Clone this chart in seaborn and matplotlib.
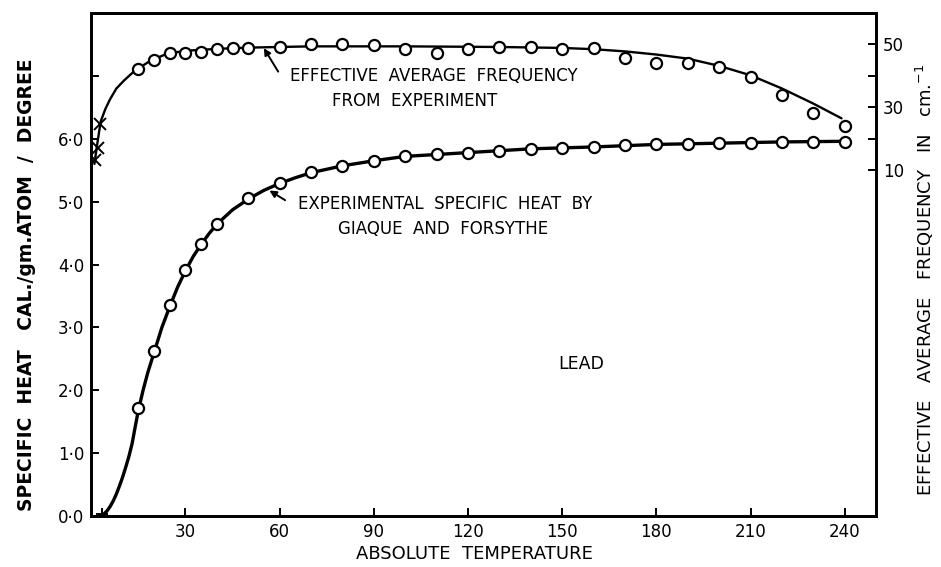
import numpy as np
import pandas as pd
import matplotlib
matplotlib.use("Agg")
import matplotlib.pyplot as plt
import seaborn as sns

# ==================================================
# DATA
# ==================================================

# specific heat of lead, cal / gm.atom / degree (left axis)
heat_T = [15, 20, 25, 30, 35, 40, 50, 60, 70, 80, 90, 100, 110, 120,
          130, 140, 150, 160, 170, 180, 190, 200, 210, 220, 230, 240]
heat_C = [1.71, 2.62, 3.35, 3.92, 4.33, 4.65, 5.05, 5.30, 5.47, 5.57,
          5.65, 5.73, 5.75, 5.78, 5.81, 5.84, 5.86, 5.87, 5.90, 5.92,
          5.92, 5.94, 5.94, 5.95, 5.95, 5.95]

heat_line_T = [3, 4, 5, 6, 7, 8, 9, 10, 11, 12, 13, 14, 15, 16.5, 18, 20,
               22.5, 25, 27.5, 30, 32.5, 35, 37.5, 40, 45, 50, 55, 60, 65,
               70, 80, 90, 100, 120, 140, 160, 180, 200, 220, 240]
heat_line_C = [0.0, 0.03, 0.08, 0.15, 0.24, 0.35, 0.48, 0.62, 0.78, 0.95,
               1.15, 1.42, 1.68, 2.00, 2.28, 2.60, 3.00, 3.33, 3.64, 3.90,
               4.13, 4.32, 4.49, 4.64, 4.87, 5.04, 5.18, 5.29, 5.38,
               5.46, 5.57, 5.65, 5.72, 5.78, 5.84, 5.87, 5.91, 5.93, 5.95,
               5.96]

# effective average frequency in cm^-1 (right axis)
freq_T = [15, 20, 25, 30, 35, 40, 45, 50, 60, 70, 80, 90, 100, 110, 120,
          130, 140, 150, 160, 170, 180, 190, 200, 210, 220, 230, 240]
freq_v = [42.2, 45.0, 47.3, 47.3, 47.6, 48.6, 48.9, 48.9, 49.2, 50.0,
          50.2, 49.8, 48.6, 47.3, 48.6, 49.2, 49.2, 48.6, 48.9, 45.7,
          44.1, 44.1, 42.9, 39.7, 34.0, 28.3, 24.1]

freq_cross_T = [1.1, 2.1, 2.7]
freq_cross_v = [13.3, 17.1, 24.8]

freq_line_T = [1, 2, 3, 4.5, 6, 8, 10.5, 14, 19, 24, 30, 40, 50, 70, 100,
               130, 150, 160, 170, 180, 190, 200, 210, 220, 230, 239]
freq_line_v = [12, 19, 25.5, 29.5, 32.6, 36, 38.6, 41.8, 44.9, 47, 48,
               48.6, 49, 49.4, 49.4, 49.2, 48.9, 48.5, 47.8, 46.8, 45.5,
               43.2, 40.2, 36, 31.2, 26.5]

x_ticks = [30, 60, 90, 120, 150, 180, 210, 240]
left_ticks = [0, 1, 2, 3, 4, 5, 6, 7]
left_labels = ["0·0", "1·0", "2·0", "3·0", "4·0", "5·0", "6·0", ""]
right_ticks = [10, 20, 30, 40, 50]
right_labels = ["10", "", "30", "", "50"]

# ==================================================
# STYLE
# ==================================================

sns.set_style("ticks")
plt.rcParams["font.family"] = ["DejaVu Sans"]

INK = "black"

fig = plt.figure(figsize=(9.41, 5.67), dpi=100)
ax = fig.add_axes([0.097, 0.09, 0.834, 0.887])

# twin axis: frequency = 20 * C - 100
ax2 = ax.twinx()

# ==================================================
# CURVES
# ==================================================

sns.lineplot(x=heat_line_T, y=heat_line_C, ax=ax, color=INK,
             linewidth=2.4, sort=False)
sns.lineplot(x=heat_T, y=heat_C, ax=ax, color=INK, linewidth=0,
             marker="o", markersize=8, markerfacecolor="white",
             markeredgecolor=INK, markeredgewidth=1.6)
ax.plot([3.5], [0.03], marker="+", markersize=9, color=INK,
        markeredgewidth=1.4, linestyle="none")

sns.lineplot(x=freq_line_T, y=freq_line_v, ax=ax2, color=INK,
             linewidth=1.7, sort=False)
sns.lineplot(x=freq_T, y=freq_v, ax=ax2, color=INK, linewidth=0,
             marker="o", markersize=8, markerfacecolor="white",
             markeredgecolor=INK, markeredgewidth=1.6)
ax2.plot(freq_cross_T, freq_cross_v, marker="x", markersize=8,
         color=INK, markeredgewidth=1.4, linestyle="none")

# ==================================================
# AXES
# ==================================================

ax.set_xlim(0, 250)
ax.set_ylim(0, 8)
ax2.set_ylim(-100, 60)

ax.set_xticks(x_ticks)
ax.set_xticklabels([str(t) for t in x_ticks])
ax.set_yticks(left_ticks)
ax.set_yticklabels(left_labels)
ax2.set_yticks(right_ticks)
ax2.set_yticklabels(right_labels)

for a in (ax, ax2):
    a.tick_params(direction="in", length=6, width=1.4, colors=INK,
                  labelsize=12, pad=5)
    for s in a.spines.values():
        s.set_visible(True)
        s.set_linewidth(2)
        s.set_color(INK)

ax.set_xlabel("ABSOLUTE  TEMPERATURE", fontsize=13, color=INK)
ax.xaxis.set_label_coords(0.488, -0.058)

ax.set_ylabel("SPECIFIC  HEAT   CAL./gm.ATOM  /  DEGREE", fontsize=13.5,
              fontweight="bold", color=INK)
ax.yaxis.set_label_coords(-0.07, 0.46)

ax2.set_ylabel("EFFECTIVE   AVERAGE   FREQUENCY   IN   cm.$^{-1}$",
               fontsize=13, color=INK)
ax2.yaxis.set_label_coords(1.048, 0.47)

# ==================================================
# ANNOTATIONS
# ==================================================

txt = dict(fontsize=12, color=INK)

ax.text(109, 7.0, "EFFECTIVE  AVERAGE  FREQUENCY", ha="center",
        va="center", **txt)
ax.text(103, 6.6, "FROM  EXPERIMENT", ha="center", va="center", **txt)
ax.annotate("", xy=(54.5, 7.48), xytext=(60, 7.03),
            arrowprops=dict(arrowstyle="-|>", color=INK, lw=1.4,
                            mutation_scale=10))

ax.text(112.8, 4.97, "EXPERIMENTAL  SPECIFIC  HEAT  BY", ha="center",
        va="center", **txt)
ax.text(112, 4.57, "GIAQUE  AND  FORSYTHE", ha="center", va="center",
        **txt)
ax.annotate("", xy=(56, 5.2), xytext=(62.5, 5.0),
            arrowprops=dict(arrowstyle="-|>", color=INK, lw=1.4,
                            mutation_scale=10))

ax.text(156, 2.41, "LEAD", ha="center", va="center", fontsize=12.5,
        color=INK)

fig.savefig("out.png", dpi=100)
